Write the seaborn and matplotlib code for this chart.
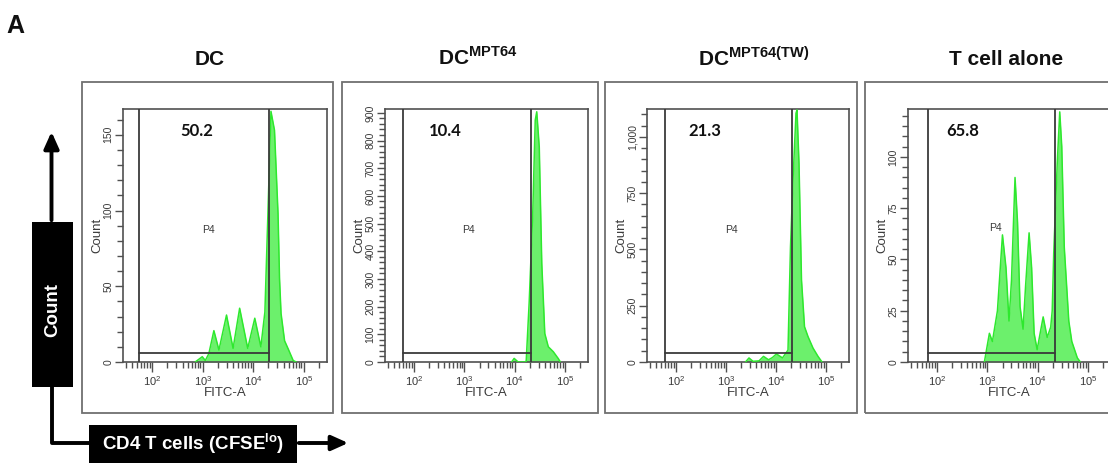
import matplotlib
matplotlib.use("Agg")
import numpy as np
import matplotlib.pyplot as plt
import seaborn as sns
from matplotlib import font_manager
from matplotlib.patches import Rectangle, FancyArrowPatch
from matplotlib.lines import Line2D
from matplotlib.ticker import FixedLocator, MultipleLocator, LogLocator, NullFormatter, FixedFormatter

# ---------------- data ----------------
panel_titles = ["DC", r"$\mathbf{DC}^{\mathbf{MPT64}}$", r"$\mathbf{DC}^{\mathbf{MPT64(TW)}}$", "T cell alone"]
gate_pct = ["50.2", "10.4", "21.3", "65.8"]
gate_name = "P4"

# CFSE (FITC-A) histograms: log10 intensity vs event count
dc_log = [2.85, 2.99, 3.05, 3.12, 3.22, 3.32, 3.47, 3.60, 3.73, 3.89, 4.03, 4.15, 4.23,
          4.29, 4.35, 4.42, 4.49, 4.52, 4.55, 4.62, 4.70, 4.79, 4.85]
dc_cnt = [0, 3.5, 1, 5.5, 20.7, 7.9, 31, 9, 35.5, 9, 28.9, 10, 33,
          98, 165.5, 153, 98, 55, 32, 14, 8, 1, 0]

mpt_log = [3.94, 3.99, 4.07, 4.20, 4.23, 4.29, 4.36, 4.41, 4.44, 4.49, 4.54, 4.60, 4.67,
           4.77, 4.87, 4.91]
mpt_cnt = [0, 13, 0, 0, 3, 218, 537, 874, 904, 777, 356, 103, 55,
           37, 12, 0]

tw_log = [3.39, 3.46, 3.54, 3.66, 3.75, 3.85, 3.93, 4.01, 4.13, 4.24, 4.29, 4.34, 4.40,
          4.42, 4.46, 4.51, 4.57, 4.64, 4.74, 4.84, 4.92]
tw_cnt = [0, 18, 3, 5, 25, 10, 20, 36, 18, 53, 513, 809, 1105,
          1120, 883, 364, 157, 113, 62, 25, 0]

tcell_log = [2.94, 3.04, 3.10, 3.20, 3.30, 3.37, 3.43, 3.48, 3.55, 3.60, 3.65, 3.71, 3.76,
             3.83, 3.88, 3.93, 3.99, 4.11, 4.19, 4.26, 4.29, 4.32, 4.39, 4.44, 4.48, 4.53,
             4.62, 4.68, 4.79, 4.85]
tcell_cnt = [0, 14, 10, 25, 62, 46, 20, 40, 90, 68, 27, 16, 37,
             63, 46, 14, 6, 22, 12, 17, 25, 53, 97, 122, 105, 56,
             20, 10, 2, 0]

hist_log = [dc_log, mpt_log, tw_log, tcell_log]
hist_cnt = [dc_cnt, mpt_cnt, tw_cnt, tcell_cnt]

# gate P4 boundaries (log10 FITC-A)
gate_lo = [1.74, 1.78, 1.78, 1.82]
gate_hi = [4.32, 4.32, 4.32, 4.34]

# count axes
y_max = [167, 914, 1124, 123.4]
y_ticks = [[0, 50, 100, 150],
           [0, 100, 200, 300, 400, 500, 600, 700, 800, 900],
           [0, 250, 500, 750, 1000],
           [0, 25, 50, 75, 100]]
y_ticklabels = [["0", "50", "100", "150"],
                ["0", "100", "200", "300", "400", "500", "600", "700", "800", "900"],
                ["0", "250", "500", "750", "1,000"],
                ["0", "25", "50", "75", "100"]]
y_minor = [10, 20, 50, 5]
x_ticks = [1e2, 1e3, 1e4, 1e5]
x_ticklabels = [r"$\mathregular{10^{2}}$", r"$\mathregular{10^{3}}$",
                r"$\mathregular{10^{4}}$", r"$\mathregular{10^{5}}$"]

# ---------------- style ----------------
sns.set_style("white")
installed = {f.name for f in font_manager.fontManager.ttflist}
NARROW = "Liberation Sans Narrow" if "Liberation Sans Narrow" in installed else "Liberation Sans"
plt.rcParams["font.family"] = ["Liberation Sans", "DejaVu Sans"]
plt.rcParams["mathtext.fontset"] = "custom"
plt.rcParams["mathtext.rm"] = "Liberation Sans"
plt.rcParams["mathtext.bf"] = f"{NARROW}:bold"

W, H = 1108, 465
fig = plt.figure(figsize=(W / 100, H / 100), dpi=100)
fig.patch.set_facecolor("white")


def fx(px):
    return px / W


def fy(py):
    return 1 - py / H


FILL = "#6cf06c"
EDGE = "#2ee82e"
GATE = "#3a3a3a"
SPINE = "#505050"
TXT = "#3a3a3a"

frames = [(82, 333), (342, 598), (605, 857), (865, 1120)]
axes_x = [(123, 327), (385, 588), (647, 849), (908, 1111)]
ax_top, ax_bot = 109, 362
title_x = [210, 478, 754, 1006]
pct_x = [0.363, 0.296, 0.287, 0.271]
p4_pos = [(0.417, 0.522), (0.409, 0.522), (0.419, 0.522), (0.429, 0.528)]

for i in range(4):
    # outer panel frame
    x0, x1 = frames[i]
    fig.add_artist(Rectangle((fx(x0), fy(413)), fx(x1) - fx(x0), fy(82) - fy(413),
                             transform=fig.transFigure, fill=False, ec="#707070", lw=1.3))

    a0, a1 = axes_x[i]
    ax = fig.add_axes([fx(a0), fy(ax_bot), fx(a1) - fx(a0), fy(ax_top) - fy(ax_bot)])
    ax.set_xscale("log")
    x = 10 ** np.asarray(hist_log[i])
    y = np.asarray(hist_cnt[i], dtype=float)
    ax.fill_between(x, 0, y, color=FILL, lw=0, zorder=2)
    sns.lineplot(x=x, y=y, ax=ax, color=EDGE, lw=1.1, sort=False, estimator=None, zorder=3)

    # gate
    lo, hi = 10 ** gate_lo[i], 10 ** gate_hi[i]
    ax.axvline(lo, color=GATE, lw=1.3, zorder=4)
    ax.axvline(hi, color=GATE, lw=1.3, zorder=4)
    ax.plot([lo, hi], [0.035, 0.035], transform=ax.get_xaxis_transform(),
            color=GATE, lw=1.3, zorder=4)

    ax.set_xlim(10 ** 1.42, 10 ** 5.46)
    ax.set_ylim(0, y_max[i])

    ax.xaxis.set_major_locator(FixedLocator(x_ticks))
    ax.xaxis.set_major_formatter(FixedFormatter(x_ticklabels))
    ax.xaxis.set_minor_locator(LogLocator(base=10, subs=np.arange(2, 10), numticks=20))
    ax.xaxis.set_minor_formatter(NullFormatter())
    ax.yaxis.set_major_locator(FixedLocator(y_ticks[i]))
    ax.yaxis.set_major_formatter(FixedFormatter(y_ticklabels[i]))
    ax.yaxis.set_minor_locator(MultipleLocator(y_minor[i]))

    ax.tick_params(which="major", direction="out", length=7, width=1.0, color=SPINE,
                   labelsize=8, labelcolor=TXT, pad=2, bottom=True, left=True)
    ax.tick_params(which="minor", direction="out", length=4, width=1.0, color=SPINE,
                   bottom=True, left=True)
    ax.tick_params(axis="y", which="major", length=6, labelsize=7.5, pad=1)
    for lab in ax.get_yticklabels():
        lab.set_rotation(90)
        lab.set_va("center")
        lab.set_ha("right")

    for s in ax.spines.values():
        s.set_color(SPINE)
        s.set_linewidth(1.2)

    ax.set_xlabel("FITC-A", fontsize=9.5, color=TXT, labelpad=-1)
    ax.set_ylabel("Count", fontsize=9.5, color=TXT, labelpad=0)

    ax.text(pct_x[i], 0.913, gate_pct[i], transform=ax.transAxes, ha="center", va="center",
            fontsize=12, fontweight="bold", family=["Lato", "DejaVu Sans"], color="#111111",
            zorder=5)
    ax.text(p4_pos[i][0], p4_pos[i][1], gate_name, transform=ax.transAxes, ha="center",
            va="center", fontsize=7.5, color=TXT, zorder=5)

    fig.text(fx(title_x[i]), fy(65), panel_titles[i], ha="center", va="baseline",
             fontsize=15, fontweight="bold", family=[NARROW, "DejaVu Sans"], color="#111111")

# panel letter
fig.text(fx(6), fy(33), "A", ha="left", va="baseline", fontsize=18, fontweight="bold",
         family=[NARROW, "DejaVu Sans"], color="#111111")

# axis key boxes and arrows
fig.add_artist(Rectangle((fx(32), fy(387)), fx(73) - fx(32), fy(222) - fy(387),
                         transform=fig.transFigure, fc="black", ec="black", lw=0))
fig.text(fx(52.5), fy(310), "Count", rotation=90, ha="center", va="center", color="white",
         fontsize=13.5, fontweight="bold", family=[NARROW, "DejaVu Sans"])
fig.add_artist(FancyArrowPatch((fx(51.5), fy(223)), (fx(51.5), fy(129)),
                               transform=fig.transFigure,
                               arrowstyle="-|>,head_length=1.0,head_width=0.45",
                               mutation_scale=10, color="black", lw=2.8))
fig.add_artist(Line2D([fx(51.5), fx(51.5), fx(90)], [fy(386), fy(443), fy(443)],
                      transform=fig.transFigure, color="black", lw=2.8))
fig.add_artist(Rectangle((fx(89), fy(463)), fx(297) - fx(89), fy(425) - fy(463),
                         transform=fig.transFigure, fc="black", ec="black", lw=0))
fig.text(fx(193), fy(444), r"CD4 T cells (CFSE$^{\mathbf{lo}}$)", ha="center", va="center",
         color="white", fontsize=13.5, fontweight="bold", family=[NARROW, "DejaVu Sans"])
fig.add_artist(FancyArrowPatch((fx(296), fy(443)), (fx(351), fy(443)),
                               transform=fig.transFigure,
                               arrowstyle="-|>,head_length=1.0,head_width=0.45",
                               mutation_scale=10, color="black", lw=2.8))

fig.savefig("out.png", dpi=100, facecolor="white")
